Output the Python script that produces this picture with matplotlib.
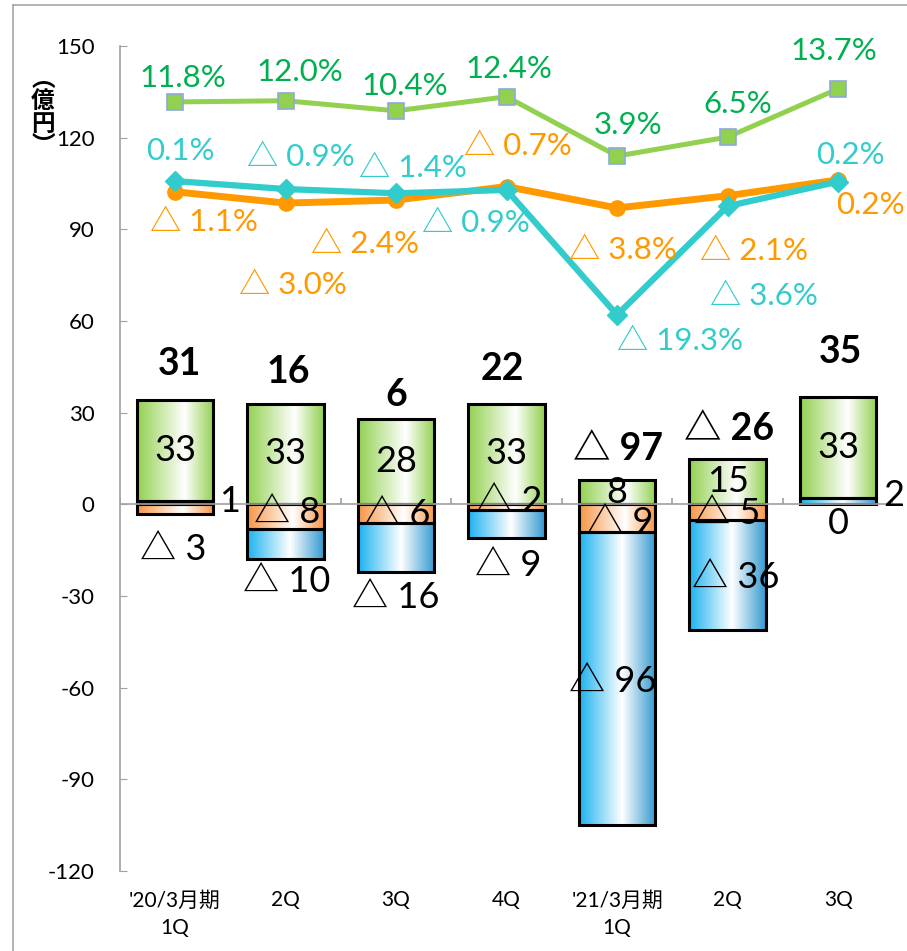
import numpy as np
import matplotlib
matplotlib.use("Agg")
import matplotlib.pyplot as plt
from matplotlib.colors import LinearSegmentedColormap
from matplotlib.lines import Line2D

plt.rcParams['font.family'] = ['Lato', 'Noto Sans CJK JP', 'DejaVu Sans']
plt.rcParams['axes.unicode_minus'] = False

# ---------- data ----------
categories = ["'20/3月期\n1Q", "2Q", "3Q", "4Q", "'21/3月期\n1Q", "2Q", "3Q"]

green = [33, 33, 28, 33, 8, 15, 33]
orange = [-3, -8, -6, -2, -9, -5, 0]
blue = [1, -10, -16, -9, -96, -36, 2]

green_txt = ['33', '33', '28', '33', '8', '15', '33']
orange_txt = ['△ 3', '△ 8', '△ 6', '△ 2', '△ 9', '△ 5', '0']
blue_txt = ['1', '△ 10', '△ 16', '△ 9', '△ 96', '△ 36', '2']
total_txt = ['31', '16', '6', '22', '△ 97', '△ 26', '35']

line_green = [131.7, 132.1, 128.8, 133.4, 114.0, 120.2, 136.0]
line_orange = [102.3, 98.6, 99.6, 104.0, 97.0, 101.0, 106.2]
line_cyan = [105.8, 103.2, 101.8, 102.9, 62.0, 97.6, 105.6]

pct_green = ['11.8%', '12.0%', '10.4%', '12.4%', '3.9%', '6.5%', '13.7%']
pct_orange = ['△ 1.1%', '△ 3.0%', '△ 2.4%', '△ 0.7%', '△ 3.8%', '△ 2.1%', '0.2%']
pct_cyan = ['0.1%', '△ 0.9%', '△ 1.4%', '△ 0.9%', '△ 19.3%', '△ 3.6%', '0.2%']

# label offsets (points)
off_green = [(6, 17), (10, 21), (6, 18), (2, 20), (8, 22), (7, 24), (-3, 27)]
off_cyan = [(4, 22), (11, 23), (12, 18), (-22, -24), (45, -19), (26, -65), (9, 19)]
off_orange = [(21, -22), (5, -59), (-22, -32), (8, 29), (4, -30), (19, -40), (23, -18)]
off_total = [(3, 26), (2, 23), (0, 17), (-3, 25), (1, 22), (1, 21), (2, 33)]
off_orange_bar = [(-1, -29), (1, 3), (1, -1), (2, 4), (2, -3), (0, -1), (0, -14)]
off_blue_bar = [(39, 1), (1, -27), (0, -36), (1, -30), (-3, -2), (6, -2), (40, 4)]

GREEN_TXT = '#00B050'
ORANGE = '#FF9900'
CYAN = '#33CCCC'

cm_green = LinearSegmentedColormap.from_list('g', [(0, '#92D050'), (0.62, '#FFFFFF'), (1, '#92D050')])
cm_orange = LinearSegmentedColormap.from_list('o', [(0, '#F79646'), (0.6, '#FFFFFF'), (1, '#F79646')])
cm_blue = LinearSegmentedColormap.from_list('b', [(0, '#1AB2F0'), (0.56, '#FFFFFF'), (1, '#3399D0')])

W = 0.69


def grad_bar(ax, x, bottom, height, cmap):
    if height == 0:
        return
    ax.bar(x, height, W, bottom=bottom, color='none', edgecolor='black', lw=2.2, zorder=3)
    y0, y1 = sorted([bottom, bottom + height])
    ax.imshow(np.linspace(0, 1, 256)[None, :], cmap=cmap, aspect='auto',
              extent=[x - W / 2, x + W / 2, y0, y1], zorder=2, interpolation='bilinear')


fig = plt.figure(figsize=(9.07, 9.51), dpi=100)
ax = fig.add_axes([0.132, 0.0841, 0.853, 0.8675])

x = np.arange(len(categories))
for i in x:
    b = blue[i]
    o = orange[i]
    g = green[i]
    grad_bar(ax, i, 0, o, cm_orange)
    if b > 0:
        grad_bar(ax, i, 0, b, cm_blue)
        g_bottom = b
    else:
        grad_bar(ax, i, o, b, cm_blue)
        g_bottom = 0
    grad_bar(ax, i, g_bottom, g, cm_green)

    top = g_bottom + g
    ax.annotate(green_txt[i], (i, g_bottom + g / 2), ha='center', va='center',
                fontsize=26, zorder=6)
    ax.annotate(orange_txt[i], (i, o / 2), xytext=off_orange_bar[i], textcoords='offset points',
                ha='center', va='center', fontsize=26, zorder=6)
    bmid = b / 2 if b > 0 else o + b / 2
    ax.annotate(blue_txt[i], (i, bmid), xytext=off_blue_bar[i], textcoords='offset points',
                ha='center', va='center', fontsize=26, zorder=6)
    ax.annotate(total_txt[i], (i, top), xytext=off_total[i], textcoords='offset points',
                ha='center', va='center', fontsize=27, fontweight='bold', zorder=6)

# ---------- lines ----------
ax.plot(x, line_green, color='#92D050', lw=3.6, marker='s', ms=11,
        mfc='#92D050', mec='#8EA9DB', mew=1.2, zorder=5)
ax.plot(x, line_orange, color=ORANGE, lw=5, marker='o', ms=11, mfc=ORANGE, mec=ORANGE, zorder=5)
ax.plot(x, line_cyan, color=CYAN, lw=4.5, marker='D', ms=10, mfc=CYAN, mec=CYAN, zorder=5)

for i in x:
    ax.annotate(pct_green[i], (i, line_green[i]), xytext=off_green[i], textcoords='offset points',
                ha='center', va='center', fontsize=22.5, color=GREEN_TXT, zorder=6)
    ax.annotate(pct_cyan[i], (i, line_cyan[i]), xytext=off_cyan[i], textcoords='offset points',
                ha='center', va='center', fontsize=22.5, color=CYAN, zorder=6)
    ax.annotate(pct_orange[i], (i, line_orange[i]), xytext=off_orange[i], textcoords='offset points',
                ha='center', va='center', fontsize=22.5, color=ORANGE, zorder=6)

# ---------- axes ----------
ax.set_xlim(-0.5, 6.5)
ax.set_ylim(-120, 150)
ax.set_yticks(np.arange(-120, 151, 30))
ax.set_xticks(x)
ax.set_xticklabels(categories, linespacing=1.5)
ax.tick_params(axis='x', length=0, pad=14, labelsize=15)
ax.tick_params(axis='y', direction='in', length=5, color='#A0A0A0', pad=18, labelsize=16)
for s in ['top', 'right', 'bottom']:
    ax.spines[s].set_visible(False)
ax.spines['left'].set_color('#A0A0A0')
ax.spines['left'].set_linewidth(1.2)

ax.axhline(0, color='#A0A0A0', lw=1.2, zorder=4)
ax.vlines(np.arange(-0.5, 7), 0, 2.2, color='#A0A0A0', lw=1.2, zorder=4)

fig.text(43 / 907, 1 - 112 / 951, '︵\n億\n円\n︶', ha='center', va='center',
         fontsize=17, fontweight='bold', linespacing=0.95)

# outer frame
fig.add_artist(Line2D([13 / 907, 13 / 907], [0, 1 - 5 / 951], transform=fig.transFigure,
                      color='#A6A6A6', lw=1.2))
fig.add_artist(Line2D([13 / 907, 1], [1 - 5 / 951, 1 - 5 / 951], transform=fig.transFigure,
                      color='#A6A6A6', lw=1.2))

fig.savefig('out.png', dpi=100)
